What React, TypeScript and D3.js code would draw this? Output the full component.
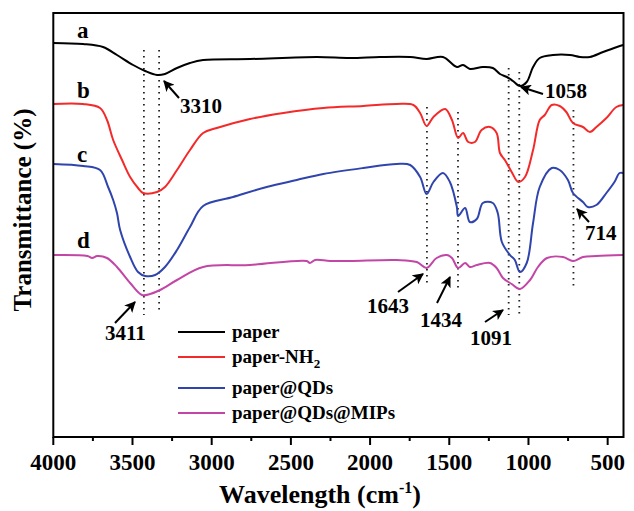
import React from 'react';
import * as d3 from 'd3';

// FTIR spectra, transmittance in arbitrary units (curves are offset)
const xTicks = [4000, 3500, 3000, 2500, 2000, 1500, 1000, 500];
const xMinorTicks = [3750, 3250, 2750, 2250, 1750, 1250, 750];

const seriesNames = ['paper', 'paper-NH2', 'paper@QDs', 'paper@QDs@MIPs'];
const seriesTags = ['a', 'b', 'c', 'd'];
const seriesColors = ['#000000', '#f42a2a', '#2f45ad', '#c246a6'];

const paper: [number, number][] = [
  [4000, 394], [3812, 393], [3686, 390], [3598, 382], [3496, 372], [3420, 366],
  [3345, 362], [3295, 363], [3219, 369], [3137, 374], [3054, 377], [2758, 378],
  [2335, 380], [2126, 379], [1937, 380], [1747, 380], [1643, 378], [1540, 380],
  [1452, 370], [1413, 372], [1370, 368], [1288, 370], [1225, 369], [1180, 363],
  [1136, 360], [1098, 356], [1054, 351], [1011, 355], [971, 370], [929, 379],
  [845, 382], [738, 382], [675, 380], [612, 380], [529, 385], [441, 390], [402, 392],
];

const paperNH2: [number, number][] = [
  [4000, 333], [3812, 333], [3705, 329], [3661, 317], [3622, 297], [3566, 277],
  [3515, 260], [3465, 249], [3433, 244], [3345, 245], [3295, 250], [3219, 267],
  [3137, 287], [3054, 304], [2968, 309], [2758, 318], [2547, 324], [2295, 329],
  [2043, 331], [1832, 333], [1727, 332], [1684, 324], [1643, 311],
  [1600, 320], [1526, 328], [1483, 317], [1444, 299], [1413, 304], [1380, 295],
  [1338, 295], [1296, 307], [1243, 310], [1201, 304], [1180, 284], [1149, 277],
  [1106, 265], [1064, 255], [1022, 260], [971, 287], [929, 317], [897, 322],
  [853, 332], [803, 331], [761, 325], [719, 314], [656, 310], [612, 305],
  [571, 310], [508, 319], [445, 330], [402, 332],
];

const paperQDs: [number, number][] = [
  [4000, 273], [3812, 271], [3705, 267], [3654, 250], [3622, 237], [3598, 224],
  [3578, 207], [3515, 180], [3465, 165], [3420, 161], [3357, 162], [3295, 170],
  [3219, 187], [3137, 210], [3054, 231], [2865, 240], [2653, 250], [2463, 257],
  [2295, 263], [2043, 269], [1832, 273], [1747, 272], [1684, 260],
  [1643, 243], [1600, 255], [1540, 264], [1496, 255], [1452, 230], [1444, 221],
  [1400, 229], [1370, 215], [1326, 218], [1288, 234], [1225, 234], [1194, 224],
  [1168, 195], [1117, 182], [1086, 177], [1054, 165], [1011, 174], [971, 214],
  [929, 250], [853, 269], [803, 267], [751, 257], [719, 244], [656, 235],
  [625, 230], [571, 232], [508, 244], [457, 255], [425, 264], [402, 264],
];

const paperQDsMIPs: [number, number][] = [
  [4000, 182], [3785, 181], [3755, 179], [3723, 181], [3661, 179], [3598, 170],
  [3515, 154], [3440, 142], [3389, 143], [3326, 147], [3219, 157], [3054, 170],
  [2758, 172], [2400, 176], [2380, 174], [2347, 177], [2253, 176], [2126, 176],
  [1832, 177], [1705, 175], [1643, 169], [1580, 179], [1515, 182], [1483, 179],
  [1444, 169], [1400, 174], [1370, 170], [1326, 172], [1243, 174], [1201, 169],
  [1161, 159], [1106, 153], [1054, 148], [990, 157], [940, 170], [883, 179],
  [782, 180], [719, 176], [656, 180], [571, 181], [402, 182],
];

const allSeries = [paper, paperNH2, paperQDs, paperQDsMIPs];

// dotted guide lines: wavenumber, top value, bottom value
const guideWaves = [3428, 3332, 1641, 1445, 1125, 1058, 716];
const guideTops = [387, 387, 330, 325, 369, 365, 327];
const guideBottoms = [122, 125, 154, 149, 122, 119, 150];

// peak annotations
const peakLabels = ['3310', '1058', '714', '1643', '1434', '1091', '3411'];

const W = 634;
const H = 511;
const plot = { left: 53.3, right: 623.5, top: 13, bottom: 437 };
const font = 'Liberation Serif, Times New Roman, serif';

export default function App() {
  const x = d3.scaleLinear().domain([4000, 400]).range([plot.left, plot.right]);
  const y = d3.scaleLinear().domain([0, 424]).range([plot.bottom, plot.top]);

  const line = d3
    .line<[number, number]>()
    .x(d => x(d[0]))
    .y(d => y(d[1]))
    .curve(d3.curveCatmullRom.alpha(0.5));

  // tag letters next to each curve start (baseline in value units)
  const tagVals = [399, 339, 275, 189];

  // arrows: head pixel, tail pixel, text anchor start + baseline (layout only)
  const arrows = [
    { head: [164, 81], tail: [179, 98], tx: 180, ty: 113 },
    { head: [521, 87], tail: [543, 94], tx: 545, ty: 98 },
    { head: [577, 209], tail: [589, 222], tx: 585, ty: 240 },
    { head: [423, 274], tail: [398, 292], tx: 367, ty: 313 },
    { head: [450, 277], tail: [437, 303], tx: 420, ty: 327 },
    { head: [503, 310], tail: [485, 322], tx: 470, ty: 345 },
    { head: [135, 302], tail: [115, 323], tx: 105, ty: 340 },
  ];

  const legendRows = [332, 357, 388, 413];

  return (
    <svg
      width={W}
      height={H}
      style={{ position: 'absolute', left: 0, top: 0, background: '#fff', fontFamily: font, fontWeight: 'bold' }}
    >
      <defs>
        <marker id="arr" viewBox="0 0 10 10" refX="9" refY="5" markerWidth="11" markerHeight="11"
          markerUnits="userSpaceOnUse" orient="auto">
          <path d="M0,0 L10,5 L0,10 L2.5,5 z" fill="#000" />
        </marker>
      </defs>

      {/* dotted guides */}
      {guideWaves.map((w, i) => (
        <line key={'g' + i} x1={x(w)} x2={x(w)} y1={y(guideTops[i])} y2={y(guideBottoms[i])}
          stroke="#222" strokeWidth={1.8} strokeDasharray="1.6 4.4" />
      ))}

      {/* spectra */}
      {allSeries.map((s, i) => (
        <path key={'s' + i} d={line(s) || ''} fill="none" stroke={seriesColors[i]} strokeWidth={2} />
      ))}

      {/* curve tags */}
      {seriesTags.map((t, i) => (
        <text key={'t' + i} x={77} y={y(tagVals[i])} fontSize={23}>{t}</text>
      ))}

      {/* peak annotations */}
      {arrows.map((a, i) => (
        <g key={'a' + i}>
          <line x1={a.tail[0]} y1={a.tail[1]} x2={a.head[0]} y2={a.head[1]} stroke="#000" strokeWidth={2}
            markerEnd="url(#arr)" />
          <text x={a.tx} y={a.ty} fontSize={21}>{peakLabels[i]}</text>
        </g>
      ))}

      {/* legend */}
      {seriesNames.map((n, i) => (
        <g key={'l' + i}>
          <line x1={178} x2={225} y1={legendRows[i]} y2={legendRows[i]} stroke={seriesColors[i]} strokeWidth={2} />
          <text x={232} y={legendRows[i] + 6} fontSize={19}>
            {n === 'paper-NH2' ? (
              <>paper-NH<tspan fontSize={13} dy={5}>2</tspan></>
            ) : n}
          </text>
        </g>
      ))}

      {/* frame */}
      <rect x={plot.left} y={plot.top} width={plot.right - plot.left} height={plot.bottom - plot.top}
        fill="none" stroke="#000" strokeWidth={2} />

      {/* x axis ticks */}
      {xTicks.map(t => (
        <g key={'xt' + t}>
          <line x1={x(t)} x2={x(t)} y1={plot.bottom} y2={plot.bottom + 8} stroke="#000" strokeWidth={2} />
          <text x={x(t)} y={plot.bottom + 33} fontSize={23} textAnchor="middle">{t}</text>
        </g>
      ))}
      {xMinorTicks.map(t => (
        <line key={'xm' + t} x1={x(t)} x2={x(t)} y1={plot.bottom} y2={plot.bottom + 4} stroke="#000" strokeWidth={2} />
      ))}

      {/* axis titles */}
      <text x={320} y={503} fontSize={26} textAnchor="middle">
        Wavelength (cm<tspan fontSize={16} dy={-10}>-1</tspan><tspan dy={10}>)</tspan>
      </text>
      <text transform="translate(31,210) rotate(-90)" fontSize={25} textAnchor="middle">
        Transmittance (%)
      </text>
    </svg>
  );
}
